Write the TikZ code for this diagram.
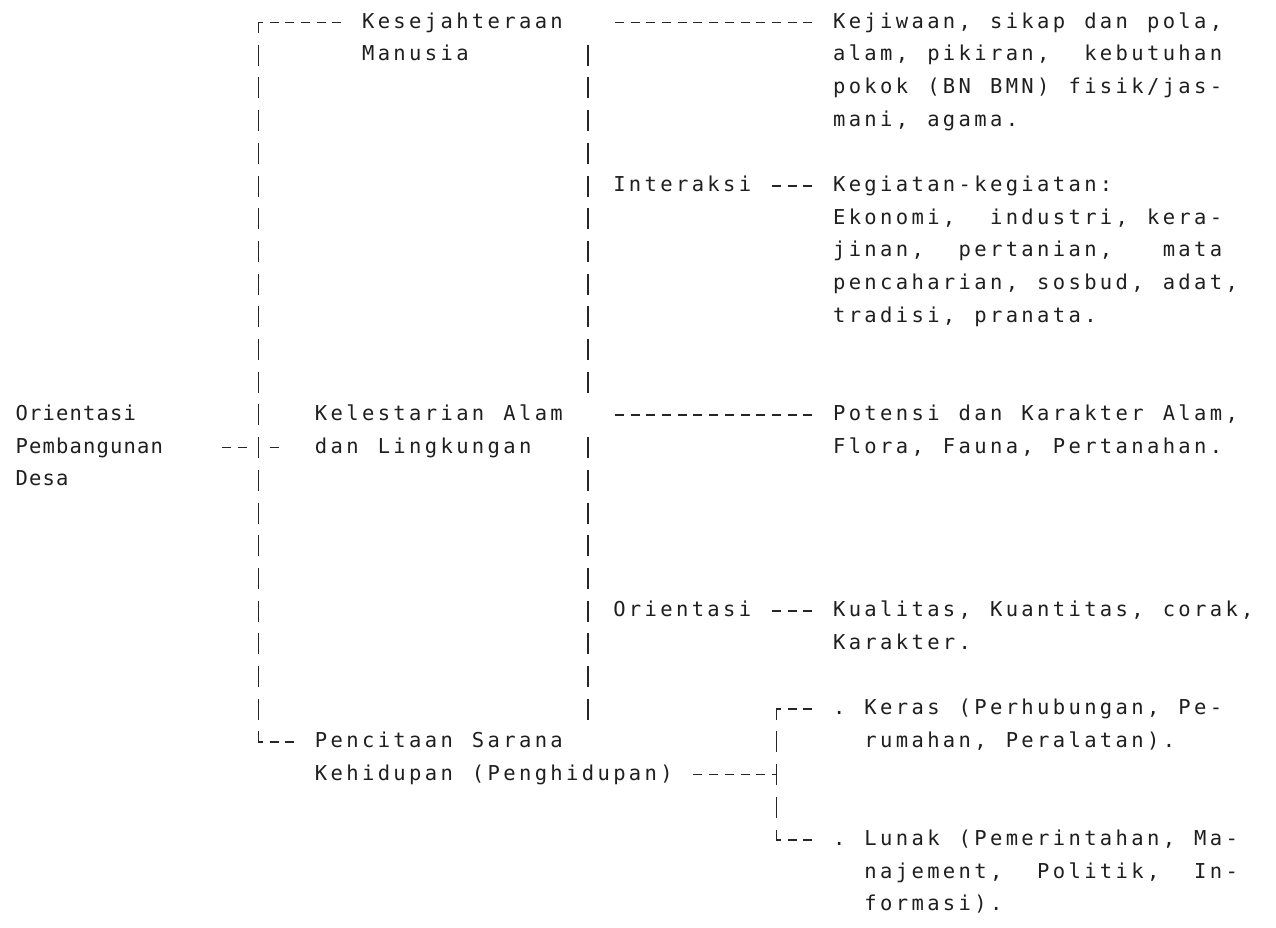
\documentclass[tikz,border=0pt]{standalone}
\usepackage{fontspec}
\newfontfamily\dotfont{DejaVu Sans Mono}
\usetikzlibrary{calc}
\newlength\cw
\setlength\cw{15.7pt}
\makeatletter
\newcommand\gridtxt[1]{\grd@loop#1\grd@stop}
\def\grd@stop{\grd@stop@x}
\def\grd@loop#1{\ifx#1\grd@stop\else\makebox[\cw][c]{#1}\expandafter\grd@loop\fi}
\makeatother
% grid helpers (pt): column left edge, column centre, row middle
\newcommand\colL[1]{(15+15.7*(#1))}
\newcommand\colC[1]{(22.85+15.7*(#1))}
\newcommand\rowM[1]{(-22.5-32.7*(#1))}
\newcommand\tline[5][15.7pt]{\node[txt] (#2) at ({\colL{#3}},{\rowM{#4}}) {\setlength\cw{#1}\gridtxt{#5}};}
\begin{document}
\begin{tikzpicture}[x=1pt,y=1pt,
  txt/.style={anchor=west, inner sep=0pt, outer sep=0pt, text height=11pt, text depth=0pt,
    font=\dotfont\fontsize{20.5pt}{24pt}\selectfont, text=black!88},
  vbar/.style={draw=black!85, line width=1.7pt, dash pattern=on 21pt off 11.7pt},
  hd/.style={draw=black!85, line width=1.6pt, dash pattern=on 9pt off 6.7pt}]
\fill[white] (0,0) rectangle (1276,-927);
\path[use as bounding box] (0,0) rectangle (1276,-927);

% left column
\tline[13.5pt]{ori}{0}{12}{Orientasi}
\tline[13.5pt]{pem}{0}{13}{Pembangunan}
\tline[13.5pt]{desa}{0}{14}{Desa}
% middle column
\tline{kes1}{22}{0}{Kesejahteraan}
\tline{kes2}{22}{1}{Manusia}
\tline{kel1}{19}{12}{Kelestarian~Alam}
\tline{kel2}{19}{13}{dan~Lingkungan}
\tline{pen1}{19}{22}{Pencitaan~Sarana}
\tline{pen2}{19}{23}{Kehidupan~(Penghidupan)}
\tline{int}{38}{5}{Interaksi}
\tline{or2}{38}{18}{Orientasi}
% right column
\tline{kw1}{52}{0}{Kejiwaan,~sikap~dan~pola,}
\tline{kw2}{52}{1}{alam,~pikiran,~~kebutuhan}
\tline{kw3}{52}{2}{pokok~(BN~BMN)~fisik/jas-}
\tline{kw4}{52}{3}{mani,~agama.}
\tline{kg1}{52}{5}{Kegiatan-kegiatan:}
\tline{kg2}{52}{6}{Ekonomi,~~industri,~kera-}
\tline{kg3}{52}{7}{jinan,~~pertanian,~~~mata}
\tline{kg4}{52}{8}{pencaharian,~sosbud,~adat,}
\tline{kg5}{52}{9}{tradisi,~pranata.}
\tline{po1}{52}{12}{Potensi~dan~Karakter~Alam,}
\tline{po2}{52}{13}{Flora,~Fauna,~Pertanahan.}
\tline{ku1}{52}{18}{Kualitas,~Kuantitas,~corak,}
\tline{ku2}{52}{19}{Karakter.}
\tline{kr1}{52}{21}{.~Keras~(Perhubungan,~Pe-}
\tline{kr2}{54}{22}{rumahan,~Peralatan).}
\tline{ln1}{52}{25}{.~Lunak~(Pemerintahan,~Ma-}
\tline{ln2}{54}{26}{najement,~~Politik,~~In-}
\tline{ln3}{54}{27}{formasi).}

% junction coordinates
\coordinate (tl) at ({\colC{15}},{\rowM{0}});
\coordinate (bl) at ({\colC{15}},{\rowM{22}});
\coordinate (j13) at ({\colC{15}},{\rowM{13}});
\coordinate (ra1) at ({\colC{36}},{\rowM{1}+10.5});
\coordinate (rb1) at ({\colC{36}},{\rowM{11}-10.5});
\coordinate (ra2) at ({\colC{36}},{\rowM{13}+10.5});
\coordinate (rb2) at ({\colC{36}},{\rowM{21}-10.5});
\coordinate (bt) at ({\colC{48}},{\rowM{21}});
\coordinate (bm) at ({\colC{48}},{\rowM{23}});
\coordinate (bb) at ({\colC{48}},{\rowM{25}});

% left bracket
\draw[vbar, dash phase=10.5pt] (tl) -- (bl);
\draw[hd, dash phase=4.5pt, shorten >=19.05pt] (tl) -- (tl -| kes1.west);
\draw[hd, dash phase=4.5pt, shorten >=19.05pt] (bl) -- (bl -| pen1.west);
\draw[hd, shorten <=58.95pt, shorten >=11.2pt] (pem.east) -- (j13);
\draw[hd, shorten <=11.2pt, shorten >=34.75pt] (j13) -- (kel2.west);
% inner bars
\draw[vbar] (ra1) -- (rb1);
\draw[vbar] (ra2) -- (rb2);
% horizontal links
\draw[hd, shorten <=50.45pt, shorten >=19.05pt] (kes1.east) -- (kw1.west);
\draw[hd, shorten <=50.45pt, shorten >=19.05pt] (kel1.east) -- (po1.west);
\draw[hd, shorten <=19.05pt, shorten >=19.05pt] (int.east) -- (kg1.west);
\draw[hd, shorten <=19.05pt, shorten >=19.05pt] (or2.east) -- (ku1.west);
\draw[hd, shorten <=19.05pt] (pen2.east) -- (bm);
% right bracket
\draw[vbar, dash phase=10.5pt] (bt) -- (bb);
\draw[hd, dash phase=4.5pt, shorten >=19.05pt] (bt) -- (bt -| kr1.west);
\draw[hd, dash phase=4.5pt, shorten >=19.05pt] (bb) -- (bb -| ln1.west);
\end{tikzpicture}
\end{document}
